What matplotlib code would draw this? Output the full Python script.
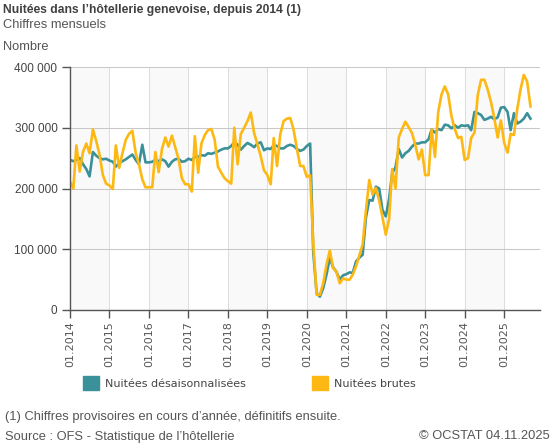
import matplotlib
matplotlib.use("Agg")
import matplotlib.pyplot as plt
import matplotlib.patches as mpatches
import matplotlib.ticker as mticker
import pandas as pd

# ---- data (thousands of nights) ----
brutes = [
    211, 200, 271, 228, 260, 274, 258, 297, 278, 256, 222, 208,   # 2014
    205, 199, 271, 234, 258, 280, 290, 295, 258, 240, 215, 202,   # 2015
    202, 202, 260, 227, 265, 284, 269, 287, 268, 249, 217, 207,   # 2016
    207, 195, 286, 226, 274, 288, 296, 298, 280, 236, 226, 217,   # 2017
    212, 208, 300, 240, 290, 300, 311, 325, 291, 273, 253, 230,   # 2018
    222, 207, 283, 237, 290, 311, 315, 316, 297, 266, 237, 237,   # 2019
    219, 222, 110, 25, 25, 44, 74, 98, 69, 63, 44, 52,            # 2020
    50, 50, 58, 72, 90, 108, 163, 214, 190, 201, 180, 153,        # 2021
    124, 150, 232, 200, 284, 298, 310, 301, 291, 272, 248, 264,   # 2022
    222, 222, 297, 252, 326, 355, 368, 355, 319, 298, 283, 285,   # 2023
    247, 250, 283, 292, 354, 379, 379, 363, 342, 316, 284, 312,   # 2024
    275, 259, 290, 288, 330, 363, 387, 376, 335,                  # 2025
]
desais = [
    247, 245, 247, 250, 240, 232, 220, 260, 254, 250, 248, 249,   # 2014
    246, 244, 236, 242, 245, 248, 252, 256, 247, 240, 272, 243,   # 2015
    243, 244, 247, 245, 248, 245, 236, 244, 248, 249, 244, 245,   # 2016
    249, 247, 252, 252, 255, 254, 258, 257, 259, 261, 264, 266,   # 2017
    266, 270, 276, 272, 264, 270, 275, 272, 268, 274, 276, 263,   # 2018
    266, 265, 271, 270, 266, 266, 270, 272, 270, 265, 262, 264,   # 2019
    270, 274, 95, 28, 22, 36, 58, 86, 70, 63, 50, 57,             # 2020
    59, 62, 61, 80, 86, 91, 152, 181, 180, 203, 200, 165,         # 2021
    154, 183, 225, 235, 265, 251, 258, 262, 269, 274, 274, 276,   # 2022
    276, 281, 297, 292, 298, 296, 305, 304, 299, 304, 300, 304,   # 2023
    303, 304, 296, 326, 324, 321, 313, 315, 318, 314, 317, 333,   # 2024
    334, 326, 296, 324, 307, 310, 315, 324, 315,                  # 2025
]
years = list(range(2014, 2026))
tick_labels = [f"01.{y}" for y in years]
yticks = [0, 100000, 200000, 300000, 400000]

series_names = ["Nuitées désaisonnalisées", "Nuitées brutes"]
col_teal = "#3a9199"
col_orange = "#fdb813"

dates = pd.date_range("2014-01-01", periods=len(brutes), freq="MS")

plt.rcParams["font.family"] = ["Liberation Sans", "DejaVu Sans"]

fig = plt.figure(figsize=(5.57, 4.47), dpi=100)
W, H = 557, 447
ax = fig.add_axes([70 / W, 1 - 310 / H, (540 - 70) / W, (310 - 67) / H])

# alternating year bands
for i, y in enumerate(years):
    if i % 2 == 0:
        ax.axvspan(pd.Timestamp(f"{y}-01-01"), pd.Timestamp(f"{y + 1}-01-01"),
                   color="#f9f9f9", lw=0, zorder=0)
for y in years:
    ax.axvline(pd.Timestamp(f"{y}-01-01"), color="#dedede", lw=0.75, zorder=1)
for v in yticks[1:]:
    ax.axhline(v, color="#c8c8c8", lw=0.75, zorder=1)

ax.plot(dates, [v * 1000 for v in desais], color=col_teal, lw=1.9, zorder=3,
        solid_joinstyle="round")
ax.plot(dates, [v * 1000 for v in brutes], color=col_orange, lw=1.9, zorder=4,
        solid_joinstyle="round")

ax.set_ylim(0, 400000)
ax.set_xlim(pd.Timestamp("2014-01-01"), pd.Timestamp("2025-11-28"))
ax.set_yticks(yticks)
ax.yaxis.set_major_formatter(mticker.FuncFormatter(
    lambda v, p: f"{int(v):,}".replace(",", " ")))
ax.set_xticks([pd.Timestamp(f"{y}-01-01") for y in years])
ax.set_xticklabels(tick_labels, rotation=90, family="DejaVu Sans",
                   fontsize=8, color="#555555")
ax.tick_params(axis="y", labelsize=8.5, colors="#555555", length=6, width=1,
               pad=3, labelcolor="#444444")
ax.tick_params(axis="x", length=6, width=1, colors="#555555", pad=2)
for s in ["top", "right"]:
    ax.spines[s].set_visible(False)
for s in ["left", "bottom"]:
    ax.spines[s].set_color("#555555")
    ax.spines[s].set_linewidth(1)
    ax.spines[s].set_zorder(5)

# titles
fig.text(3 / W, 1 - 10 / H, "Nuitées dans l’hôtellerie genevoise, depuis 2014 (1)",
         fontsize=8.75, fontweight="bold", color="#404040", va="center", ha="left")
fig.text(3 / W, 1 - 25 / H, "Chiffres mensuels", fontsize=9.3, color="#555555",
         va="center", ha="left")
fig.text(3 / W, 1 - 47 / H, "Nombre", fontsize=9.3, color="#555555",
         va="center", ha="left")

# legend
handles = [mpatches.Patch(color=col_teal, label=series_names[0]),
           mpatches.Patch(color=col_orange, label=series_names[1])]
fig.legend(handles=handles, loc="center left", bbox_to_anchor=(83 / W, 1 - 383 / H),
           ncol=2, frameon=False, prop={"family": "DejaVu Sans", "size": 8},
           handlelength=1.45, handleheight=1.45, handletextpad=0.55,
           columnspacing=5.9, borderpad=0, borderaxespad=0, labelcolor="#444444")

# footer
fig.text(5 / W, 1 - 417 / H, "(1) Chiffres provisoires en cours d’année, définitifs ensuite.",
         fontsize=9.3, color="#555555", va="center", ha="left")
fig.text(5 / W, 1 - 437 / H, "Source : OFS - Statistique de l’hôtellerie",
         fontsize=9.3, color="#555555", va="center", ha="left")
fig.text(550 / W, 1 - 436 / H, "© OCSTAT 04.11.2025",
         fontsize=9.3, color="#555555", va="center", ha="right")

fig.savefig("out.png", dpi=100)
